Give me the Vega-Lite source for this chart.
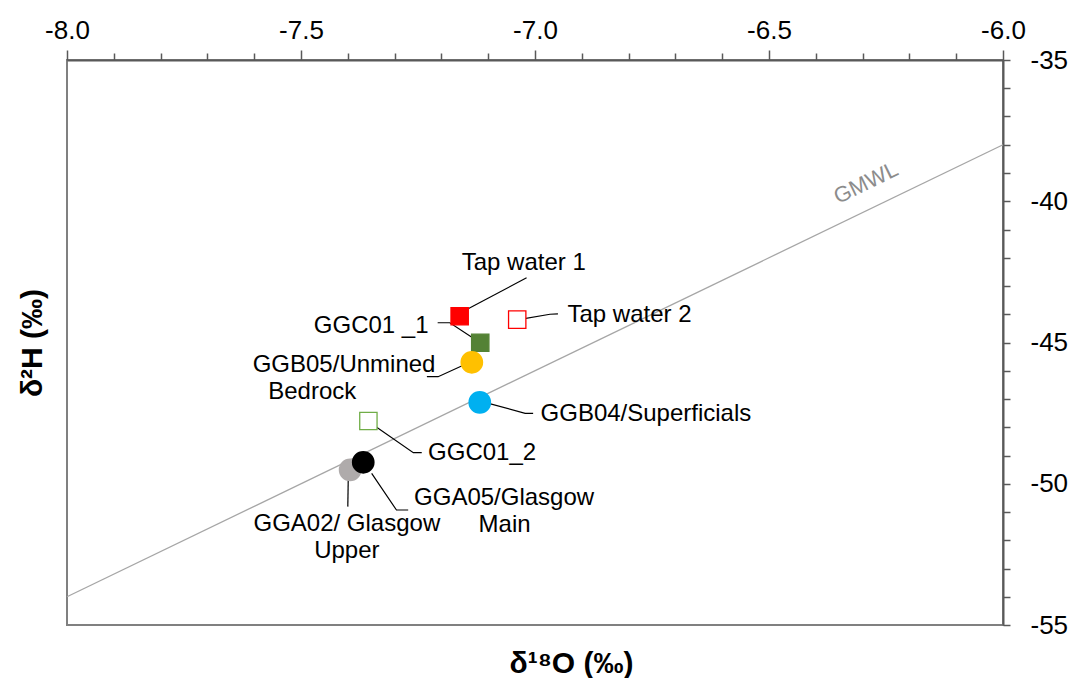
{
  "$schema": "https://vega.github.io/schema/vega-lite/v6.json",
  "width": 936,
  "height": 565,
  "autosize": "none",
  "padding": {"left": 67, "top": 60, "right": 70, "bottom": 53},
  "config": {
    "view": {"stroke": "#808080", "strokeWidth": 2},
    "font": "Liberation Sans"
  },
  "datasets": {
    "samples": [
      {"sample": "Tap water 1", "d18O": -7.161, "d2H": -44.07},
      {"sample": "Tap water 2", "d18O": -7.038, "d2H": -44.19},
      {"sample": "GGC01_1", "d18O": -7.117, "d2H": -45.01},
      {"sample": "GGC01_2", "d18O": -7.356, "d2H": -47.78},
      {"sample": "GGB05", "d18O": -7.135, "d2H": -45.70},
      {"sample": "GGB04", "d18O": -7.118, "d2H": -47.12},
      {"sample": "GGA02", "d18O": -7.395, "d2H": -49.51},
      {"sample": "GGA05", "d18O": -7.367, "d2H": -49.24}
    ],
    "gmwl": [
      {"d18O": -8, "d2H": -54},
      {"d18O": -6, "d2H": -38}
    ],
    "leaders": [
      {"sample": "Tap water 1", "ord": 1, "d18O": -7.018, "d2H": -42.71},
      {"sample": "Tap water 1", "ord": 2, "d18O": -7.155, "d2H": -43.91},
      {"sample": "GGC01_1", "ord": 1, "d18O": -7.208, "d2H": -44.30},
      {"sample": "GGC01_1", "ord": 2, "d18O": -7.182, "d2H": -44.30},
      {"sample": "GGC01_1", "ord": 3, "d18O": -7.117, "d2H": -45.01},
      {"sample": "GGB05", "ord": 1, "d18O": -7.231, "d2H": -46.21},
      {"sample": "GGB05", "ord": 2, "d18O": -7.207, "d2H": -46.21},
      {"sample": "GGB05", "ord": 3, "d18O": -7.137, "d2H": -45.68},
      {"sample": "GGB04", "ord": 1, "d18O": -7.111, "d2H": -47.10},
      {"sample": "GGB04", "ord": 2, "d18O": -7.021, "d2H": -47.51},
      {"sample": "GGB04", "ord": 3, "d18O": -7.004, "d2H": -47.51},
      {"sample": "Tap water 2", "ord": 1, "d18O": -7.032, "d2H": -44.18},
      {"sample": "Tap water 2", "ord": 2, "d18O": -6.968, "d2H": -44.00},
      {"sample": "Tap water 2", "ord": 3, "d18O": -6.951, "d2H": -43.99},
      {"sample": "GGC01_2", "ord": 1, "d18O": -7.356, "d2H": -47.80},
      {"sample": "GGC01_2", "ord": 2, "d18O": -7.260, "d2H": -48.90},
      {"sample": "GGC01_2", "ord": 3, "d18O": -7.242, "d2H": -48.90},
      {"sample": "GGA02", "ord": 1, "d18O": -7.399, "d2H": -49.75},
      {"sample": "GGA02", "ord": 2, "d18O": -7.400, "d2H": -50.81},
      {"sample": "GGA05", "ord": 1, "d18O": -7.349, "d2H": -49.63},
      {"sample": "GGA05", "ord": 2, "d18O": -7.296, "d2H": -50.93},
      {"sample": "GGA05", "ord": 3, "d18O": -7.271, "d2H": -50.93}
    ],
    "labels": [
      {"text": "Tap water 1", "d18O": -7.024, "d2H": -42.17},
      {"text": "GGC01 _1", "d18O": -7.350, "d2H": -44.42},
      {"text": "GGB05/Unmined", "d18O": -7.408, "d2H": -45.80},
      {"text": "Bedrock", "d18O": -7.476, "d2H": -46.75},
      {"text": "GGB04/Superficials", "d18O": -6.763, "d2H": -47.53},
      {"text": "Tap water 2", "d18O": -6.798, "d2H": -44.03},
      {"text": "GGC01_2", "d18O": -7.113, "d2H": -48.91},
      {"text": "GGA02/ Glasgow", "d18O": -7.402, "d2H": -51.42},
      {"text": "Upper", "d18O": -7.402, "d2H": -52.38},
      {"text": "GGA05/Glasgow", "d18O": -7.066, "d2H": -50.50},
      {"text": "Main", "d18O": -7.065, "d2H": -51.46}
    ],
    "gmwlLabel": [
      {"text": "GMWL", "d18O": -6.293, "d2H": -39.35}
    ]
  },
  "layer": [
    {
      "data": {"name": "gmwl"},
      "mark": {"type": "line", "color": "#A6A6A6", "strokeWidth": 1.3},
      "encoding": {
        "x": {
          "field": "d18O", "type": "quantitative",
          "scale": {"domain": [-8, -6], "nice": false, "zero": false},
          "axis": {
            "orient": "top",
            "title": null,
            "grid": false,
            "values": [-8, -7.9, -7.8, -7.7, -7.6, -7.5, -7.4, -7.3, -7.2, -7.1, -7, -6.9, -6.8, -6.7, -6.6, -6.5, -6.4, -6.3, -6.2, -6.1, -6],
            "labelExpr": "abs(datum.value*2 - round(datum.value*2)) < 0.001 ? replace(format(datum.value, '.1f'), '−', '-') : ''",
            "tickSize": {"condition": {"test": "abs(datum.value*2 - round(datum.value*2)) < 0.001", "value": 10}, "value": 7},
            "tickColor": "#595959",
            "tickWidth": 1.5,
            "domainColor": "#595959",
            "domainWidth": 2,
            "labelFontSize": 26,
            "labelColor": "#000000",
            "labelPadding": 7,
            "labelFlush": false,
            "labelOverlap": false
          }
        },
        "y": {
          "field": "d2H", "type": "quantitative",
          "scale": {"domain": [-55, -35], "nice": false, "zero": false},
          "axis": {
            "orient": "right",
            "title": null,
            "grid": false,
            "values": [-55, -54, -53, -52, -51, -50, -49, -48, -47, -46, -45, -44, -43, -42, -41, -40, -39, -38, -37, -36, -35],
            "labelExpr": "abs(datum.value/5 - round(datum.value/5)) < 0.001 ? replace(format(datum.value, 'd'), '−', '-') : ''",
            "tickSize": 7,
            "tickColor": "#595959",
            "tickWidth": 1.5,
            "domainColor": "#595959",
            "domainWidth": 2,
            "labelFontSize": 26,
            "labelColor": "#000000",
            "labelPadding": 20,
            "labelFlush": false,
            "labelOverlap": false
          }
        }
      }
    },
    {
      "data": {"name": "gmwlLabel"},
      "mark": {"type": "text", "angle": -26, "fontSize": 22, "color": "#8C8C8C", "align": "center", "baseline": "middle"},
      "encoding": {
        "x": {"field": "d18O", "type": "quantitative", "axis": null},
        "y": {"field": "d2H", "type": "quantitative", "axis": null},
        "text": {"field": "text"}
      }
    },
    {
      "data": {"name": "leaders"},
      "mark": {"type": "line", "color": "#000000", "strokeWidth": 1.2},
      "encoding": {
        "x": {"field": "d18O", "type": "quantitative", "axis": null},
        "y": {"field": "d2H", "type": "quantitative", "axis": null},
        "detail": {"field": "sample"},
        "order": {"field": "ord", "type": "quantitative"}
      }
    },
    {
      "data": {"name": "samples"},
      "transform": [{"filter": {"field": "sample", "oneOf": ["Tap water 1", "Tap water 2", "GGC01_1", "GGC01_2"]}}],
      "mark": {"type": "square", "size": 300, "strokeWidth": 1.3, "opacity": 1, "fillOpacity": 1},
      "encoding": {
        "x": {
          "field": "d18O", "type": "quantitative",
          "axis": {"orient": "bottom", "title": "δ¹⁸O (‰)", "labels": false, "ticks": false, "domain": false, "grid": false, "titleFontSize": 30, "titleFontWeight": "bold", "titleColor": "#000000", "titlePadding": 23, "titleX": 504}
        },
        "y": {
          "field": "d2H", "type": "quantitative",
          "axis": {"orient": "left", "title": "δ²H (‰)", "labels": false, "ticks": false, "domain": false, "grid": false, "titleFontSize": 30, "titleFontWeight": "bold", "titleColor": "#000000", "titlePadding": 20}
        },
        "fill": {
          "field": "sample", "type": "nominal", "legend": null,
          "scale": {"domain": ["Tap water 1", "Tap water 2", "GGC01_1", "GGC01_2", "GGB05", "GGB04", "GGA02", "GGA05"],
                    "range": ["#FF0000", "#FFFFFF", "#548235", "#FFFFFF", "#FFC000", "#00B0F0", "#AFABAB", "#000000"]}
        },
        "stroke": {
          "field": "sample", "type": "nominal", "legend": null,
          "scale": {"domain": ["Tap water 1", "Tap water 2", "GGC01_1", "GGC01_2", "GGB05", "GGB04", "GGA02", "GGA05"],
                    "range": ["#FF0000", "#FF0000", "#548235", "#70AD47", "#FFC000", "#00B0F0", "#AFABAB", "#000000"]}
        }
      }
    },
    {
      "data": {"name": "samples"},
      "transform": [{"filter": {"field": "sample", "oneOf": ["GGB05", "GGB04", "GGA02", "GGA05"]}}],
      "mark": {"type": "circle", "size": 430, "opacity": 1},
      "encoding": {
        "x": {"field": "d18O", "type": "quantitative", "axis": null},
        "y": {"field": "d2H", "type": "quantitative", "axis": null},
        "fill": {"field": "sample", "type": "nominal", "legend": null},
        "stroke": {"field": "sample", "type": "nominal", "legend": null}
      }
    },
    {
      "data": {"name": "labels"},
      "mark": {"type": "text", "fontSize": 24, "color": "#000000", "align": "center", "baseline": "middle"},
      "encoding": {
        "x": {"field": "d18O", "type": "quantitative", "axis": null},
        "y": {"field": "d2H", "type": "quantitative", "axis": null},
        "text": {"field": "text"}
      }
    }
  ],
  "resolve": {"axis": {"x": "independent", "y": "independent"}}
}
